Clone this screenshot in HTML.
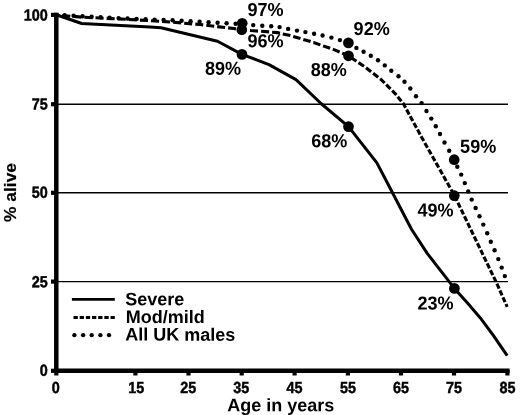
<!DOCTYPE html>
<html>
<head>
<meta charset="utf-8">
<title>Survival chart</title>
<style>
html,body{margin:0;padding:0;background:#fff;}
body{width:520px;height:415px;overflow:hidden;font-family:"Liberation Sans",sans-serif;}
svg{display:block;will-change:transform;}
text{font-family:"Liberation Sans",sans-serif;font-weight:bold;fill:#000;}
</style>
</head>
<body>
<svg width="520" height="415" viewBox="0 0 520 415">
<rect width="520" height="415" fill="#fff"/>
<!-- gridlines -->
<g stroke="#000" stroke-width="1.4" fill="none">
<line x1="57" y1="104.2" x2="508" y2="104.2"/>
<line x1="57" y1="192.8" x2="508" y2="192.8"/>
<line x1="57" y1="281.6" x2="508" y2="281.6"/>
</g>
<!-- axes -->
<g stroke="#000" stroke-width="4.5" fill="none">
<line x1="56.3" y1="12.8" x2="56.3" y2="373.1"/>
<line x1="54.2" y1="370.8" x2="509.6" y2="370.8"/>
</g>
<!-- ticks -->
<g stroke="#000" stroke-width="4.2" fill="none">
<line x1="51" y1="14.9" x2="57" y2="14.9"/>
<line x1="51" y1="104.2" x2="57" y2="104.2"/>
<line x1="51" y1="192.8" x2="57" y2="192.8"/>
<line x1="51" y1="281.6" x2="57" y2="281.6"/>
<line x1="51" y1="370.8" x2="57" y2="370.8"/>
<line x1="56.3" y1="370" x2="56.3" y2="375.5"/>
<line x1="135.4" y1="370" x2="135.4" y2="375.5"/>
<line x1="188.5" y1="370" x2="188.5" y2="375.5"/>
<line x1="241.7" y1="370" x2="241.7" y2="375.5"/>
<line x1="294.6" y1="370" x2="294.6" y2="375.5"/>
<line x1="347.9" y1="370" x2="347.9" y2="375.5"/>
<line x1="401" y1="370" x2="401" y2="375.5"/>
<line x1="454" y1="370" x2="454" y2="375.5"/>
<line x1="507.4" y1="370" x2="507.4" y2="375.5"/>
</g>
<!-- curves -->
<g fill="none" stroke="#000" stroke-linejoin="round">
<path stroke-width="3" d="M57.0,15.0 L81.7,23.5 L150.0,27.1 L161.0,27.8 L217.5,41.2 L242.0,54.4 L269.0,64.6 L296.0,79.6 L321.0,103.5 L348.5,126.6 L376.9,162.9 L392.5,192.8 L411.5,229.2 L427.4,253.6 L454.4,288.4 L467.3,302.8 L480.3,317.9 L493.3,335.3 L507.2,355.7"/>
<path stroke-width="3.1" d="M57.0,15.0 L59.3,15.2 M62.3,15.5 L70.3,16.2 M73.4,16.4 L81.4,17.1 M84.4,17.3 L92.5,17.7 M95.5,17.8 L103.6,18.2 M106.6,18.4 L112.0,18.6 L114.7,18.7 M117.7,18.9 L125.8,19.3 M128.8,19.5 L136.9,19.9 M139.9,20.1 L148.0,20.5 M151.0,20.7 L159.1,21.2 M162.1,21.4 L170.0,22.0 L170.1,22.0 M173.2,22.3 L181.2,22.9 M184.2,23.2 L192.2,23.9 M195.3,24.1 L200.0,24.5 L203.2,24.9 M206.3,25.2 L214.2,26.2 M217.2,26.6 L225.1,27.5 M228.1,27.9 L233.5,28.5 L236.0,28.9 M239.0,29.5 L241.0,29.8 L246.9,30.2 M250.0,30.4 L250.8,30.5 L258.0,31.1 M261.1,31.3 L269.1,31.9 M272.1,32.2 L277.5,32.6 L280.0,33.2 M282.8,33.9 L290.4,35.6 M293.2,36.4 L300.5,38.6 M303.3,39.4 L310.6,41.6 M313.4,42.5 L313.5,42.5 L320.4,44.9 M323.1,45.9 L330.1,48.3 M332.8,49.3 L334.6,49.9 L339.6,52.0 M342.2,53.1 L348.4,55.8 L348.8,56.0 M350.9,57.5 L356.4,61.2 M358.5,62.6 L364.0,66.3 M366.0,67.8 L371.1,71.8 M373.1,73.3 L378.2,77.2 M380.1,78.7 L380.9,79.3 L384.6,83.0 M386.2,84.6 L390.5,88.9 M392.2,90.6 L395.4,93.8 L396.3,94.9 M397.7,96.7 L401.4,101.2 M402.8,102.9 L403.3,103.5 L405.6,107.7 M406.6,109.6 L409.2,114.4 M410.2,116.2 L412.8,121.1 M413.8,122.9 L416.5,127.7 M417.5,129.6 L420.1,134.4 M421.1,136.2 L421.5,137.0 L423.8,141.0 M424.8,142.9 L427.5,147.7 M428.5,149.5 L431.2,154.3 M432.3,156.2 L435.0,161.0 M436.0,162.8 L438.7,167.6 M439.8,169.4 L442.5,174.3 M443.5,176.1 L446.2,180.9 M447.3,182.7 L450.0,187.5 M451.0,189.4 L453.7,194.2 M454.7,196.0 L457.0,200.9 M457.9,202.8 L460.3,207.6 M461.2,209.5 L463.5,214.4 M464.4,216.2 L466.8,221.1 M467.7,223.0 L470.0,227.9 M470.9,229.7 L473.3,234.6 M474.2,236.5 L476.5,241.4 M477.4,243.2 L479.8,248.1 M480.7,250.0 L483.0,254.8 M483.9,256.7 L486.3,261.6 M487.2,263.4 L489.5,268.3 M490.4,270.2 L492.8,275.1 M493.7,276.9 L495.7,281.1 L496.0,281.8 M496.9,283.7 L499.1,288.6 M499.9,290.5 L502.1,295.4 M502.9,297.3 L505.1,302.2 M506.0,304.0 L507.2,306.8"/>
</g>
<!-- All UK males dotted curve -->
<g fill="#000">
<circle cx="64.6" cy="15.2" r="2.2"/>
<circle cx="73.6" cy="15.7" r="2.2"/>
<circle cx="82.6" cy="16.2" r="2.2"/>
<circle cx="91.6" cy="16.8" r="2.2"/>
<circle cx="100.6" cy="17.3" r="2.2"/>
<circle cx="109.6" cy="17.8" r="2.2"/>
<circle cx="118.6" cy="18.1" r="2.2"/>
<circle cx="127.6" cy="18.5" r="2.2"/>
<circle cx="136.6" cy="18.9" r="2.2"/>
<circle cx="145.6" cy="19.2" r="2.2"/>
<circle cx="154.6" cy="19.6" r="2.2"/>
<circle cx="163.6" cy="19.9" r="2.2"/>
<circle cx="172.6" cy="20.2" r="2.2"/>
<circle cx="181.6" cy="20.7" r="2.2"/>
<circle cx="190.6" cy="21.2" r="2.2"/>
<circle cx="199.6" cy="21.7" r="2.2"/>
<circle cx="208.6" cy="22.2" r="2.2"/>
<circle cx="217.6" cy="22.8" r="2.2"/>
<circle cx="226.6" cy="23.3" r="2.2"/>
<circle cx="235.6" cy="23.8" r="2.2"/>
<circle cx="253.2" cy="25.1" r="2.2"/>
<circle cx="262.3" cy="25.7" r="2.2"/>
<circle cx="271.2" cy="26.3" r="2.2"/>
<circle cx="279.6" cy="27.1" r="2.2"/>
<circle cx="288.1" cy="28.9" r="2.2"/>
<circle cx="297.0" cy="30.6" r="2.2"/>
<circle cx="305.4" cy="32.1" r="2.2"/>
<circle cx="314.1" cy="33.8" r="2.2"/>
<circle cx="322.6" cy="35.5" r="2.2"/>
<circle cx="331.4" cy="37.6" r="2.2"/>
<circle cx="339.9" cy="40.1" r="2.2"/>
<circle cx="356.4" cy="47.9" r="2.2"/>
<circle cx="363.6" cy="51.7" r="2.2"/>
<circle cx="370.8" cy="55.8" r="2.2"/>
<circle cx="378.0" cy="60.3" r="2.2"/>
<circle cx="384.8" cy="65.4" r="2.2"/>
<circle cx="391.3" cy="70.7" r="2.2"/>
<circle cx="398.5" cy="76.2" r="2.2"/>
<circle cx="404.5" cy="81.8" r="2.2"/>
<circle cx="410.3" cy="88.5" r="2.2"/>
<circle cx="416.0" cy="96.2" r="2.2"/>
<circle cx="421.6" cy="103.1" r="2.2"/>
<circle cx="426.5" cy="111.0" r="2.2"/>
<circle cx="431.3" cy="118.6" r="2.2"/>
<circle cx="435.8" cy="126.3" r="2.2"/>
<circle cx="440.0" cy="134.0" r="2.2"/>
<circle cx="444.5" cy="142.5" r="2.2"/>
<circle cx="449.2" cy="150.8" r="2.2"/>
<circle cx="457.3" cy="166.7" r="2.2"/>
<circle cx="461.2" cy="174.6" r="2.2"/>
<circle cx="464.8" cy="183.1" r="2.2"/>
<circle cx="468.2" cy="191.5" r="2.2"/>
<circle cx="471.7" cy="199.6" r="2.2"/>
<circle cx="475.6" cy="208.0" r="2.2"/>
<circle cx="479.5" cy="216.2" r="2.2"/>
<circle cx="483.3" cy="224.6" r="2.2"/>
<circle cx="487.2" cy="233.3" r="2.2"/>
<circle cx="490.8" cy="241.7" r="2.2"/>
<circle cx="494.6" cy="250.3" r="2.2"/>
<circle cx="498.3" cy="259.1" r="2.2"/>
<circle cx="501.7" cy="267.6" r="2.2"/>
<circle cx="504.8" cy="276.1" r="2.2"/>
</g>
<!-- data markers -->
<g fill="#000">
<circle cx="242.2" cy="23.3" r="5.35"/>
<circle cx="241.8" cy="29.7" r="5.35"/>
<circle cx="242" cy="54.4" r="5.35"/>
<circle cx="348.4" cy="42.9" r="5.35"/>
<circle cx="348.5" cy="55.8" r="5.35"/>
<circle cx="348.5" cy="126.6" r="5.35"/>
<circle cx="454.2" cy="159.7" r="5.35"/>
<circle cx="454.3" cy="195.7" r="5.35"/>
<circle cx="454.4" cy="288.4" r="5.35"/>
</g>
<!-- data labels -->
<text transform="translate(247.5,16.1) rotate(0.03) scale(0.96,1)" font-size="18.8">97%</text>
<text transform="translate(247.5,47.2) rotate(0.03) scale(0.96,1)" font-size="18.8">96%</text>
<text transform="translate(205,74.7) rotate(0.03) scale(0.96,1)" font-size="18.8">89%</text>
<text transform="translate(353.6,35.0) rotate(0.03) scale(0.96,1)" font-size="18.8">92%</text>
<text transform="translate(310.8,76.0) rotate(0.03) scale(0.96,1)" font-size="18.8">88%</text>
<text transform="translate(311.3,147.3) rotate(0.03) scale(0.96,1)" font-size="18.8">68%</text>
<text transform="translate(460.1,152.7) rotate(0.03) scale(0.96,1)" font-size="18.8">59%</text>
<text transform="translate(417.5,216.6) rotate(0.03) scale(0.96,1)" font-size="18.8">49%</text>
<text transform="translate(417.5,309.6) rotate(0.03) scale(0.96,1)" font-size="18.8">23%</text>
<!-- y tick labels -->
<text transform="translate(47.8,20.4) rotate(0.03) scale(0.9,1)" font-size="16.0" text-anchor="end" stroke="#000" stroke-width="0.45">100</text>
<text transform="translate(47.8,109.5) rotate(0.03) scale(0.9,1)" font-size="16.0" text-anchor="end" stroke="#000" stroke-width="0.45">75</text>
<text transform="translate(47.8,197.8) rotate(0.03) scale(0.9,1)" font-size="16.0" text-anchor="end" stroke="#000" stroke-width="0.45">50</text>
<text transform="translate(47.8,287.2) rotate(0.03) scale(0.9,1)" font-size="16.0" text-anchor="end" stroke="#000" stroke-width="0.45">25</text>
<text transform="translate(47.8,375.7) rotate(0.03) scale(0.9,1)" font-size="16.0" text-anchor="end" stroke="#000" stroke-width="0.45">0</text>
<!-- x tick labels -->
<text transform="translate(55.7,393) rotate(0.03) scale(0.9,1)" font-size="16.0" text-anchor="middle" stroke="#000" stroke-width="0.45">0</text>
<text transform="translate(136.2,393) rotate(0.03) scale(0.9,1)" font-size="16.0" text-anchor="middle" stroke="#000" stroke-width="0.45">15</text>
<text transform="translate(188.3,393) rotate(0.03) scale(0.9,1)" font-size="16.0" text-anchor="middle" stroke="#000" stroke-width="0.45">25</text>
<text transform="translate(241.3,393) rotate(0.03) scale(0.9,1)" font-size="16.0" text-anchor="middle" stroke="#000" stroke-width="0.45">35</text>
<text transform="translate(294.4,393) rotate(0.03) scale(0.9,1)" font-size="16.0" text-anchor="middle" stroke="#000" stroke-width="0.45">45</text>
<text transform="translate(347.9,393) rotate(0.03) scale(0.9,1)" font-size="16.0" text-anchor="middle" stroke="#000" stroke-width="0.45">55</text>
<text transform="translate(401,393) rotate(0.03) scale(0.9,1)" font-size="16.0" text-anchor="middle" stroke="#000" stroke-width="0.45">65</text>
<text transform="translate(453.9,393) rotate(0.03) scale(0.9,1)" font-size="16.0" text-anchor="middle" stroke="#000" stroke-width="0.45">75</text>
<text transform="translate(507.5,393) rotate(0.03) scale(0.9,1)" font-size="16.0" text-anchor="middle" stroke="#000" stroke-width="0.45">85</text>
<!-- axis titles -->
<text transform="translate(227.3,411.2) rotate(0.03)" font-size="18">Age in years</text>
<text transform="translate(16.3,222) rotate(-90)" font-size="17.4" stroke="#000" stroke-width="0.2">% alive</text>
<!-- legend -->
<g stroke="#000" fill="none">
<line x1="71.9" y1="299.4" x2="114.8" y2="299.4" stroke-width="2.7"/>
<line x1="73.5" y1="317.5" x2="114.9" y2="317.5" stroke-width="2.9" stroke-dasharray="4.3 1.87"/>
</g>
<g fill="#000">
<circle cx="74.4" cy="335.2" r="2.15"/>
<circle cx="83.1" cy="335.2" r="2.15"/>
<circle cx="91.7" cy="335.2" r="2.15"/>
<circle cx="100.4" cy="335.2" r="2.15"/>
<circle cx="109" cy="335.2" r="2.15"/>
</g>
<text transform="translate(125.3,305.2) rotate(0.03)" font-size="18">Severe</text>
<text transform="translate(125.8,322.9) rotate(0.03)" font-size="18">Mod/mild</text>
<text transform="translate(125.2,340.6) rotate(0.03)" font-size="18">All UK males</text>
</svg>
</body>
</html>
